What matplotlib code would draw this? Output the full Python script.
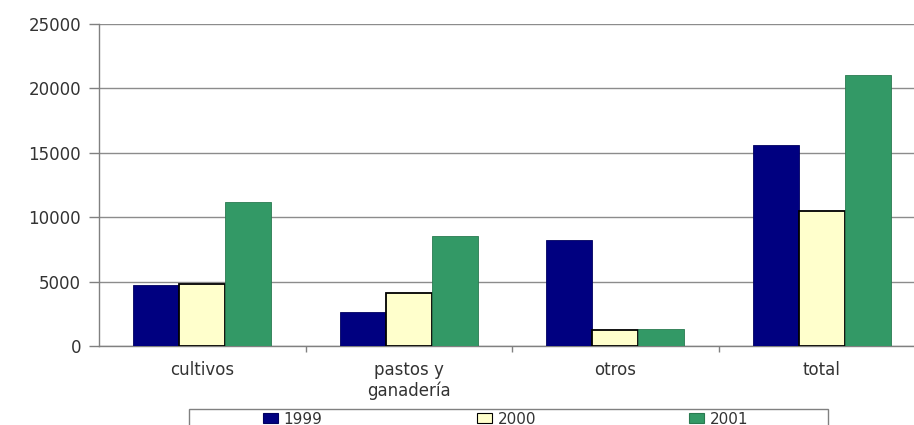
import numpy as np
import matplotlib
matplotlib.use("Agg")
import matplotlib.pyplot as plt
from matplotlib.patches import Rectangle, Patch
from matplotlib.ticker import FixedLocator, NullFormatter

plt.rcParams['font.family'] = ['DejaVu Sans']

categories = ["cultivos", "pastos y\nganadería", "otros", "total"]
years = ["1999", "2000", "2001"]
v1999 = [4710, 2660, 8230, 15630]
v2000 = [4840, 4110, 1240, 10480]
v2001 = [11180, 8560, 1320, 21040]

series = [v1999, v2000, v2001]
colors = ["#000080", "#FFFFCC", "#339966"]
edges = ["#000060", "#000000", "#2a7a50"]
edge_w = [0.6, 1.3, 0.6]

W, H = 914, 425
fig = plt.figure(figsize=(W / 100, H / 100), dpi=100)
left, right, top, bottom = 99, 925, 24, 346
ax = fig.add_axes([left / W, (H - bottom) / H, (right - left) / W, (bottom - top) / H])

x = np.arange(len(categories))
bw = 0.223
for i, (vals, c, ec, lw) in enumerate(zip(series, colors, edges, edge_w)):
    ax.bar(x + (i - 1) * bw, vals, width=bw, color=c, edgecolor=ec,
           linewidth=lw, label=years[i], zorder=3)

ax.set_xlim(-0.5, len(categories) - 0.5)
ax.set_ylim(0, 25000)
ax.set_yticks(np.arange(0, 25001, 5000))
ax.tick_params(axis='y', labelsize=12, colors='#808080', labelcolor='#333333',
               length=7, width=1, pad=6)
ax.grid(axis='y', color='#8c8c8c', linewidth=1, zorder=0)

ax.xaxis.set_major_locator(FixedLocator(x))
ax.set_xticklabels(categories, fontsize=12, color='#333333', linespacing=1.15)
ax.tick_params(axis='x', which='major', length=0, pad=11)
ax.xaxis.set_minor_locator(FixedLocator(np.arange(0.5, len(categories) - 0.5, 1)))
ax.xaxis.set_minor_formatter(NullFormatter())
ax.tick_params(axis='x', which='minor', length=4, width=1, color='#808080')

for s in ['top', 'right']:
    ax.spines[s].set_visible(False)
for s in ['left', 'bottom']:
    ax.spines[s].set_color('#808080')
    ax.spines[s].set_linewidth(1)

# legend frame along the bottom edge
lx0, lx1, ly0 = 189, 828, 409
fig.patches.append(Rectangle((lx0 / W, (H - 440) / H), (lx1 - lx0) / W, (440 - ly0) / H,
                             transform=fig.transFigure, facecolor='white',
                             edgecolor='#808080', linewidth=1, zorder=1))
entry_x = [263, 477, 689]
for yr, c, ec, ex in zip(years, colors, ['#000060', '#000000', '#2a7a50'], entry_x):
    fig.legend(handles=[Patch(facecolor=c, edgecolor=ec, linewidth=0.8)], labels=[yr],
               loc='center left', bbox_to_anchor=(ex / W, (H - 419) / H),
               frameon=False, fontsize=11, handlelength=1.0, handleheight=0.6,
               handletextpad=0.35, borderpad=0, borderaxespad=0,
               labelcolor='#333333')

fig.savefig("out.png", dpi=100, facecolor='white')
